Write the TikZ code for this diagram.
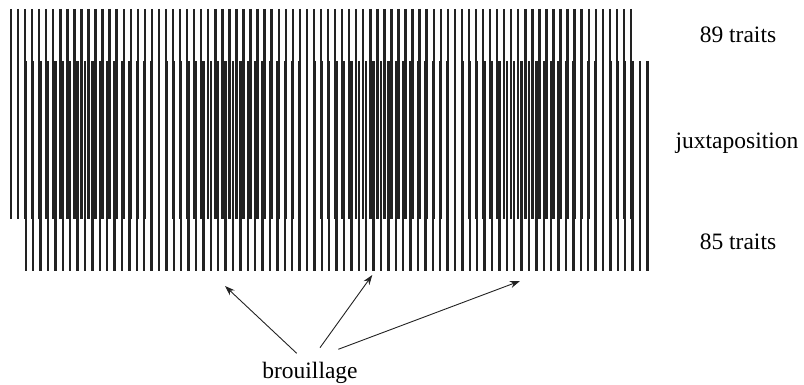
\documentclass[tikz,border=0pt]{standalone}
\usepackage{fontspec}
\setmainfont{Liberation Serif}
\usetikzlibrary{arrows.meta}
\definecolor{ink}{HTML}{222222}
\begin{document}
\begin{tikzpicture}[x=1pt,y=-1pt,
  trait/.style={draw=ink,line width=2.4pt},
  lab/.style={font=\fontsize{23.5}{28}\selectfont,anchor=base,inner sep=0pt},
  arr/.style={draw=ink,line width=0.9pt,-{Stealth[length=10pt,width=7pt]}}]
\useasboundingbox (0,0) rectangle (804,385);
% 89 traits (top)
\foreach \i in {0,...,88}{
  \draw[trait] ({11+\i*7.045454},9) -- ({11+\i*7.045454},219);
}
% 85 traits (bottom)
\foreach \i in {0,...,84}{
  \draw[trait] ({25.7+\i*7.4},61) -- ({25.7+\i*7.4},271);
}
\node[lab] (t89) at (738,43) {89 traits};
\node[lab] (jux) at (737,149) {juxtaposition};
\node[lab] (t85) at (738,250) {85 traits};
\node[lab] (brou) at (310,378) {brouillage};
\coordinate (s1) at (296.7,353.3);
\coordinate (s2) at (320,347.7);
\coordinate (s3) at (338.3,349.3);
\coordinate (e1) at (225,286);
\coordinate (e2) at (372.3,275);
\coordinate (e3) at (520,281);
\draw[arr] (s1) -- (e1);
\draw[arr] (s2) -- (e2);
\draw[arr] (s3) -- (e3);
\end{tikzpicture}
\end{document}
